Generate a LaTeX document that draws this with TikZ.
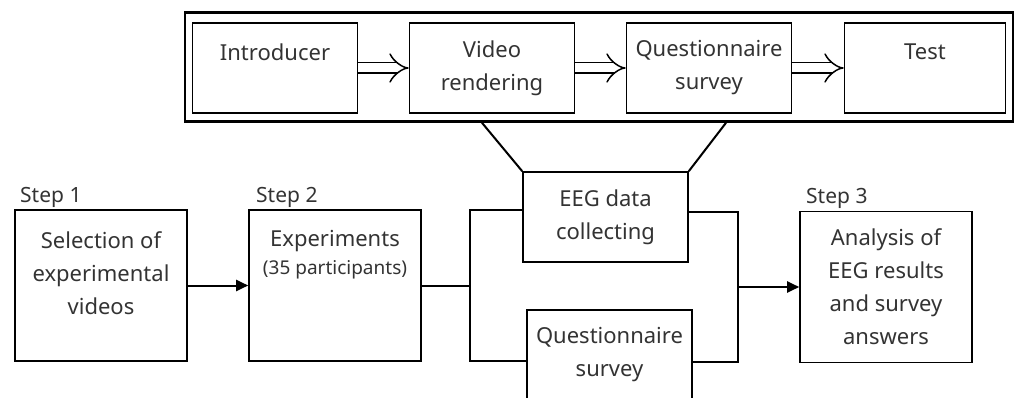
\documentclass[tikz,border=0pt]{standalone}
\usepackage{fontspec}
\setmainfont{Noto Sans}
\usetikzlibrary{arrows.meta}
\tikzset{
  box/.style={draw, line width=1.6pt, align=center, inner sep=0pt, text=black!80,
    minimum width=165pt, minimum height=90pt, font=\fontsize{22}{33}\selectfont},
  bigbox/.style={box, minimum width=172pt, minimum height=151pt},
  toptext/.style={anchor=north, align=center, inner sep=0pt, text=black!80,
    font=\fontsize{22}{33}\selectfont},
  steplabel/.style={anchor=base west, inner sep=0pt, text=black!80,
    font=\fontsize{21}{25}\selectfont},
  hollow/.style={double, double distance=9pt, line width=1.5pt, -{Implies[scale=1.5]}},
  link/.style={line width=2pt},
  flow/.style={link, -{Triangle[length=12pt,width=11pt]}}
}
\begin{document}
\begin{tikzpicture}[x=1pt,y=-1pt]
  \useasboundingbox (0,0) rectangle (1017,398);
  % experiment procedure
  \node[draw, line width=2.6pt, minimum width=828pt, minimum height=109pt] (frame) at (599,67) {};
  \node[box] (intro) at (275,68) {};
  \node[toptext] (introtxt) at ([yshift=-21pt]intro.north) {Introducer};
  \node[box] (video) at (492,68) {Video\\rendering};
  \node[box] (quest) at (709,68) {Questionnaire\\survey};
  \node[box, minimum width=161pt] (test) at (925,68) {};
  \node[toptext] (testtxt) at ([yshift=-21pt]test.north) {Test};
  \draw[hollow] (intro) -- (video);
  \draw[hollow] (video) -- (quest);
  \draw[hollow] (quest) -- (test);

  % steps
  \node[bigbox] (sel) at (101,285.5) {};
  \node[toptext] (seltxt) at ([yshift=-22pt]sel.north) {Selection of\\experimental\\videos};
  \node[steplabel] (step1) at (20,203) {Step 1};
  \node[bigbox] (exp) at (335,285.5) {};
  \node[toptext] (exptxt) at ([yshift=-21pt]exp.north) {Experiments\\[-5pt]{\fontsize{19}{22}\selectfont(35 participants)}};
  \node[steplabel] (step2) at (256,203) {Step 2};
  \node[box] (eeg) at (605.5,217) {EEG data\\collecting};
  \node[box] (qsv) at (609.5,355) {Questionnaire\\survey};
  \node[bigbox] (ana) at (886,287) {Analysis of\\EEG results\\and survey\\answers};
  \node[steplabel] (step3) at (806,204) {Step 3};

  \draw[link] ([xshift=-117pt]frame.south) -- (eeg.north west);
  \draw[link] ([xshift=127pt]frame.south) -- (eeg.north east);

  \coordinate (fork) at (470,285.5);
  \coordinate (join) at (738,287);
  \draw[flow] (sel) -- (exp);
  \draw[link] (exp) -- (fork);
  \draw[link] ([yshift=7pt]eeg.west) -| (fork) |- ([yshift=-6pt]qsv.west);
  \draw[link] ([yshift=5pt]eeg.east) -| (join) |- ([yshift=-7pt]qsv.east);
  \draw[flow] (join) -- (ana);
\end{tikzpicture}
\end{document}
